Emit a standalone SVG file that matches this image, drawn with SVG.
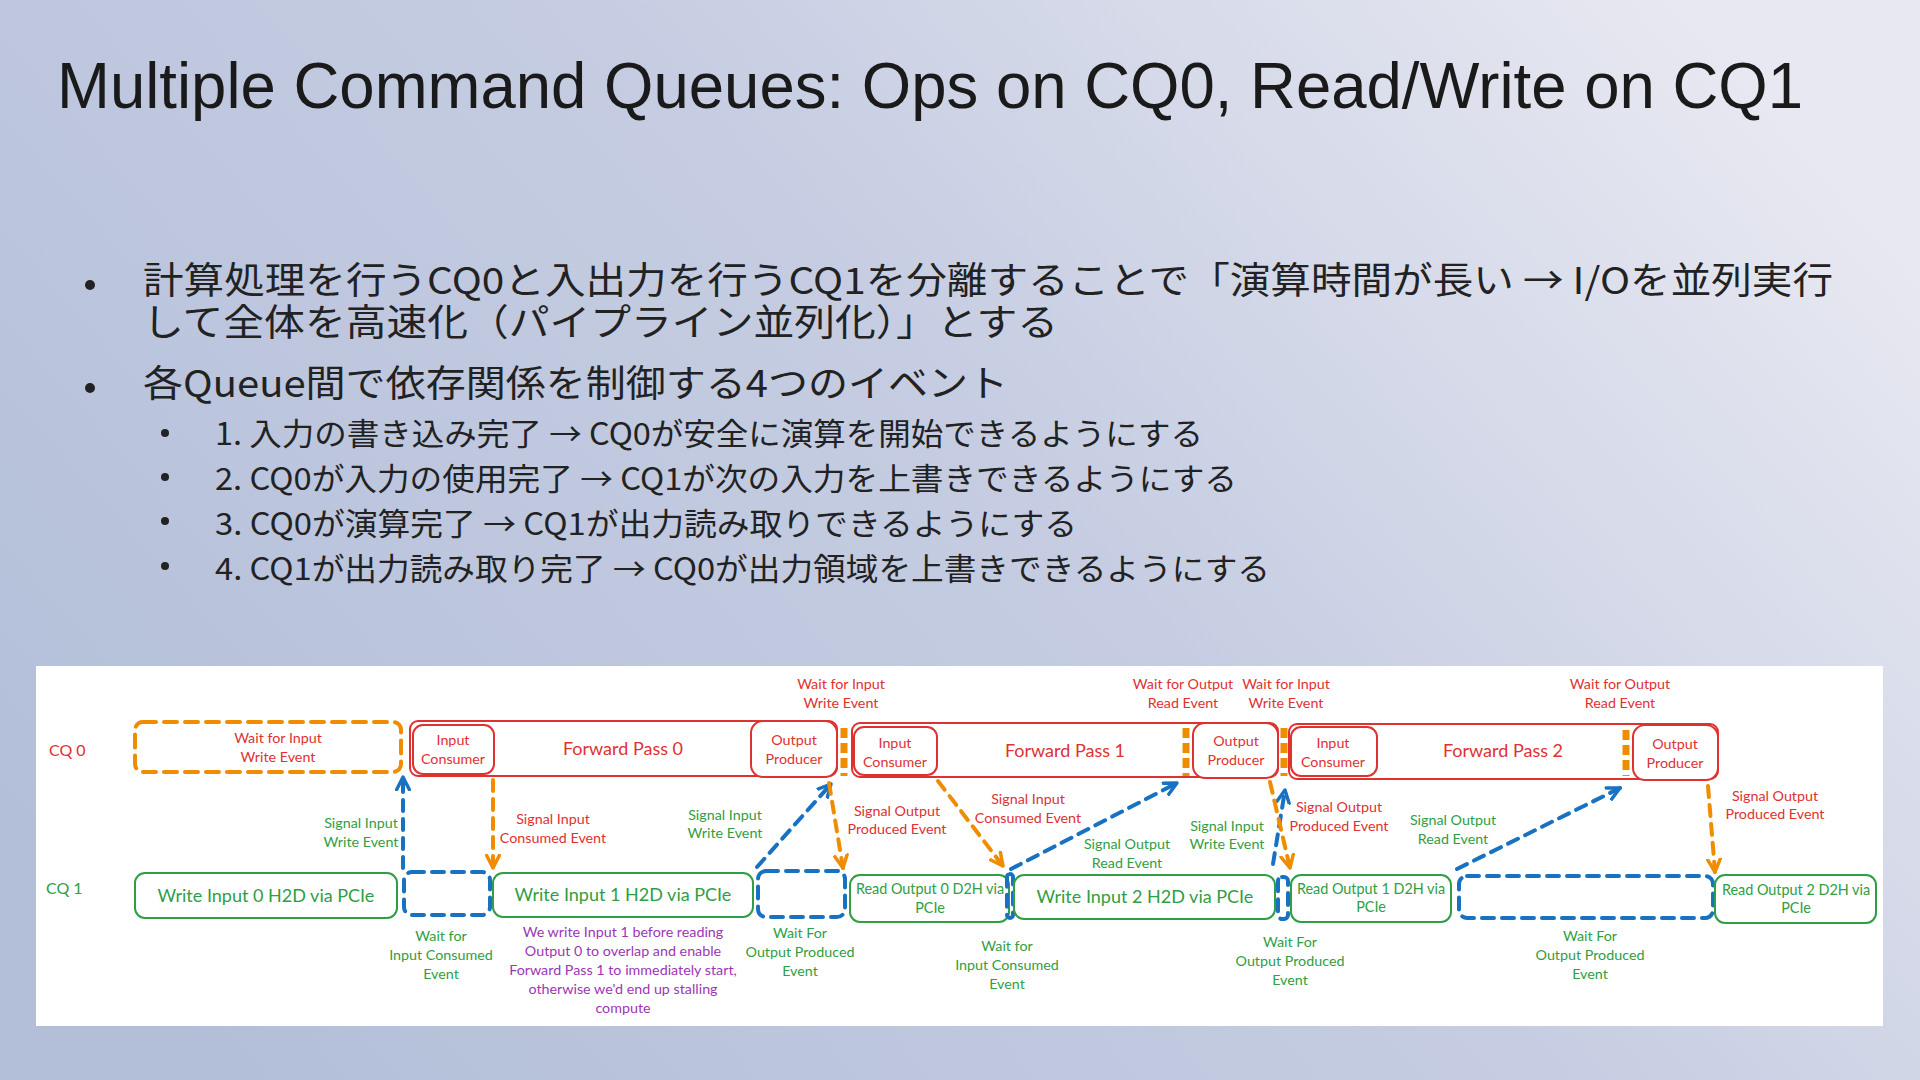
<svg xmlns="http://www.w3.org/2000/svg" width="1920" height="1080" viewBox="0 0 1920 1080">
<defs>
<linearGradient id="bg" x1="0" y1="0.75" x2="1" y2="0.25">
<stop offset="0" stop-color="#b3bfd9"/>
<stop offset="0.55" stop-color="#c6cde2"/>
<stop offset="1" stop-color="#e7e8f1"/>
</linearGradient>
<marker id="ab" viewBox="0 0 14 14" refX="12" refY="7" markerWidth="16" markerHeight="16" markerUnits="userSpaceOnUse" orient="auto">
<path d="M1,1.5 L12,7 L1,12.5" fill="none" stroke="#1971c2" stroke-width="3" stroke-linecap="round" stroke-linejoin="round"/>
</marker>
<marker id="ao" viewBox="0 0 14 14" refX="12" refY="7" markerWidth="16" markerHeight="16" markerUnits="userSpaceOnUse" orient="auto">
<path d="M1,1.5 L12,7 L1,12.5" fill="none" stroke="#f08c00" stroke-width="3" stroke-linecap="round" stroke-linejoin="round"/>
</marker>
</defs>
<style>
.title{font-family:"Liberation Sans",Arial,sans-serif;font-size:64px;fill:#1a1a1a}
.jp{font-family:"Noto Sans CJK JP","Noto Sans",sans-serif;fill:#222}
.b1{font-size:37px}
.b2{font-size:31px}
.d{font-family:Lato,"Open Sans",sans-serif}
.red{fill:#e03131}
.grn{fill:#2f9e44}
.pur{fill:#9c36b5}
.lbl{font-size:14.3px;text-anchor:middle}
.box{font-size:18px;text-anchor:middle}
.box2{font-size:14.4px;text-anchor:middle}
.fp{font-size:18px;text-anchor:middle}
.cq{font-size:16px}
.rbox{fill:#fff;stroke:#e03131;stroke-width:2}
.gbox{fill:#fff;stroke:#2f9e44;stroke-width:2}
.bdash{fill:none;stroke:#1971c2;stroke-width:4;stroke-dasharray:12 8;stroke-linecap:round}
.odash{fill:none;stroke:#f08c00;stroke-width:4;stroke-dasharray:13 8;stroke-linecap:round}
.obar{fill:none;stroke:#f08c00;stroke-width:7;stroke-dasharray:10 5}
.cb{fill:none;stroke:#1971c2;stroke-width:4;stroke-dasharray:11 8;stroke-linecap:round;marker-end:url(#ab)}
.co{fill:none;stroke:#f08c00;stroke-width:4;stroke-dasharray:11 8;stroke-linecap:round;marker-end:url(#ao)}
</style>
<rect x="0" y="0" width="1920" height="1080" fill="url(#bg)"/>
<text class="title" x="57" y="108" textLength="1746" lengthAdjust="spacingAndGlyphs">Multiple Command Queues: Ops on CQ0, Read/Write on CQ1</text>
<g id="bullets">
<circle cx="90" cy="285" r="5" fill="#222"/>
<text class="jp b1" x="143" y="294" textLength="1690" lengthAdjust="spacingAndGlyphs">計算処理を行うCQ0と入出力を行うCQ1を分離することで「演算時間が長い → I/Oを並列実行</text>
<text class="jp b1" x="143" y="336" textLength="915" lengthAdjust="spacingAndGlyphs">して全体を高速化（パイプライン並列化）」とする</text>
<circle cx="90" cy="388" r="5" fill="#222"/>
<text class="jp b1" x="143" y="397" textLength="865" lengthAdjust="spacingAndGlyphs">各Queue間で依存関係を制御する4つのイベント</text>
<circle cx="165" cy="433" r="4" fill="#222"/>
<text class="jp b2" x="215" y="445" textLength="988" lengthAdjust="spacingAndGlyphs">1. 入力の書き込み完了 → CQ0が安全に演算を開始できるようにする</text>
<circle cx="165" cy="477" r="4" fill="#222"/>
<text class="jp b2" x="215" y="490" textLength="1022" lengthAdjust="spacingAndGlyphs">2. CQ0が入力の使用完了 → CQ1が次の入力を上書きできるようにする</text>
<circle cx="165" cy="521" r="4" fill="#222"/>
<text class="jp b2" x="215" y="535" textLength="862" lengthAdjust="spacingAndGlyphs">3. CQ0が演算完了 → CQ1が出力読み取りできるようにする</text>
<circle cx="165" cy="566" r="4" fill="#222"/>
<text class="jp b2" x="215" y="580" textLength="1055" lengthAdjust="spacingAndGlyphs">4. CQ1が出力読み取り完了 → CQ0が出力領域を上書きできるようにする</text>
</g>
<rect x="36" y="666" width="1847" height="360" fill="#fff"/>
<g id="row-labels" class="d">
<text class="cq red" x="49" y="756">CQ 0</text>
<text class="cq grn" x="46" y="894">CQ 1</text>
</g>
<g id="wait-input-0">
<rect class="odash" x="135" y="722" width="266" height="50" rx="8"/>
<text class="d lbl red" x="278" y="743">Wait for Input</text>
<text class="d lbl red" x="278" y="762">Write Event</text>
</g>
<g id="fp0">
<rect class="rbox" x="410" y="721" width="427" height="55" rx="8"/>
<rect class="rbox" x="413" y="725" width="81" height="49" rx="10"/>
<text class="d lbl red" x="453" y="745">Input</text>
<text class="d lbl red" x="453" y="764">Consumer</text>
<text class="d fp red" x="623" y="755">Forward Pass 0</text>
<rect class="rbox" x="751" y="721" width="86" height="56" rx="12"/>
<text class="d lbl red" x="794" y="745">Output</text>
<text class="d lbl red" x="794" y="764">Producer</text>
</g>
<g id="fp1">
<rect class="rbox" x="852" y="723" width="426" height="54" rx="8"/>
<rect class="rbox" x="854" y="727" width="83" height="48" rx="10"/>
<text class="d lbl red" x="895" y="748">Input</text>
<text class="d lbl red" x="895" y="767">Consumer</text>
<text class="d fp red" x="1065" y="757">Forward Pass 1</text>
<rect class="rbox" x="1193" y="723" width="85" height="55" rx="12"/>
<text class="d lbl red" x="1236" y="746">Output</text>
<text class="d lbl red" x="1236" y="765">Producer</text>
</g>
<g id="fp2">
<rect class="rbox" x="1289" y="724" width="429" height="55" rx="8"/>
<rect class="rbox" x="1291" y="727" width="86" height="49" rx="10"/>
<text class="d lbl red" x="1333" y="748">Input</text>
<text class="d lbl red" x="1333" y="767">Consumer</text>
<text class="d fp red" x="1503" y="757">Forward Pass 2</text>
<rect class="rbox" x="1633" y="725" width="85" height="55" rx="12"/>
<text class="d lbl red" x="1675" y="749">Output</text>
<text class="d lbl red" x="1675" y="768">Producer</text>
</g>
<g id="cq0-waits">
<line class="obar" x1="844" y1="728" x2="844" y2="776"/>
<line class="obar" x1="1186" y1="728" x2="1186" y2="776"/>
<line class="obar" x1="1284" y1="728" x2="1284" y2="776"/>
<line class="obar" x1="1626" y1="730" x2="1626" y2="776"/>
<text class="d lbl red" x="841" y="689">Wait for Input</text>
<text class="d lbl red" x="841" y="708">Write Event</text>
<text class="d lbl red" x="1183" y="689">Wait for Output</text>
<text class="d lbl red" x="1183" y="708">Read Event</text>
<text class="d lbl red" x="1286" y="689">Wait for Input</text>
<text class="d lbl red" x="1286" y="708">Write Event</text>
<text class="d lbl red" x="1620" y="689">Wait for Output</text>
<text class="d lbl red" x="1620" y="708">Read Event</text>
</g>
<g id="write-input-0">
<rect class="gbox" x="135" y="873" width="262" height="45" rx="10"/>
<text class="d box grn" x="266" y="902">Write Input 0 H2D via PCIe</text>
</g>
<g id="wait-consumed-0">
<rect class="bdash" x="404" y="872" width="86" height="43" rx="8"/>
<text class="d lbl grn" x="441" y="941">Wait for</text>
<text class="d lbl grn" x="441" y="960">Input Consumed</text>
<text class="d lbl grn" x="441" y="979">Event</text>
</g>
<g id="write-input-1">
<rect class="gbox" x="493" y="873" width="260" height="44" rx="10"/>
<text class="d box grn" x="623" y="901">Write Input 1 H2D via PCIe</text>
<text class="d lbl pur" x="623" y="937">We write Input 1 before reading</text>
<text class="d lbl pur" x="623" y="956">Output 0 to overlap and enable</text>
<text class="d lbl pur" x="623" y="975">Forward Pass 1 to immediately start,</text>
<text class="d lbl pur" x="623" y="994">otherwise we'd end up stalling</text>
<text class="d lbl pur" x="623" y="1013">compute</text>
</g>
<g id="wait-produced-0">
<rect class="bdash" x="758" y="871" width="87" height="46" rx="8"/>
<text class="d lbl grn" x="800" y="938">Wait For</text>
<text class="d lbl grn" x="800" y="957">Output Produced</text>
<text class="d lbl grn" x="800" y="976">Event</text>
</g>
<g id="read-output-0">
<rect class="gbox" x="850" y="875" width="159" height="47" rx="10"/>
<text class="d box2 grn" x="930" y="894">Read Output 0 D2H via</text>
<text class="d box2 grn" x="930" y="913">PCIe</text>
</g>
<g id="wait-consumed-1">
<rect class="bdash" x="1007" y="874" width="6" height="44" rx="3"/>
<text class="d lbl grn" x="1007" y="951">Wait for</text>
<text class="d lbl grn" x="1007" y="970">Input Consumed</text>
<text class="d lbl grn" x="1007" y="989">Event</text>
</g>
<g id="write-input-2">
<rect class="gbox" x="1014" y="875" width="261" height="44" rx="10"/>
<text class="d box grn" x="1145" y="903">Write Input 2 H2D via PCIe</text>
</g>
<g id="wait-produced-1">
<rect class="bdash" x="1278" y="877" width="10" height="42" rx="4"/>
<text class="d lbl grn" x="1290" y="947">Wait For</text>
<text class="d lbl grn" x="1290" y="966">Output Produced</text>
<text class="d lbl grn" x="1290" y="985">Event</text>
</g>
<g id="read-output-1">
<rect class="gbox" x="1291" y="875" width="160" height="47" rx="10"/>
<text class="d box2 grn" x="1371" y="894">Read Output 1 D2H via</text>
<text class="d box2 grn" x="1371" y="912">PCIe</text>
</g>
<g id="wait-produced-2">
<rect class="bdash" x="1459" y="876" width="254" height="42" rx="8"/>
<text class="d lbl grn" x="1590" y="941">Wait For</text>
<text class="d lbl grn" x="1590" y="960">Output Produced</text>
<text class="d lbl grn" x="1590" y="979">Event</text>
</g>
<g id="read-output-2">
<rect class="gbox" x="1715" y="875" width="161" height="48" rx="10"/>
<text class="d box2 grn" x="1796" y="895">Read Output 2 D2H via</text>
<text class="d box2 grn" x="1796" y="913">PCIe</text>
</g>
<g id="connectors">
<line class="cb" x1="403" y1="868" x2="403" y2="777"/>
<line class="co" x1="493" y1="780" x2="493" y2="868"/>
<line class="cb" x1="757" y1="867" x2="831" y2="784"/>
<line class="co" x1="829" y1="783" x2="843" y2="868"/>
<line class="co" x1="938" y1="781" x2="1003" y2="866"/>
<line class="cb" x1="1011" y1="869" x2="1177" y2="783"/>
<line class="cb" x1="1273" y1="864" x2="1285" y2="790"/>
<line class="co" x1="1270" y1="782" x2="1290" y2="868"/>
<line class="cb" x1="1457" y1="869" x2="1620" y2="788"/>
<line class="co" x1="1708" y1="786" x2="1715" y2="872"/>
<g class="d lbl">
<text class="grn" x="361" y="828">Signal Input</text>
<text class="grn" x="361" y="847">Write Event</text>
<text class="red" x="553" y="824">Signal Input</text>
<text class="red" x="553" y="843">Consumed Event</text>
<text class="grn" x="725" y="820">Signal Input</text>
<text class="grn" x="725" y="838">Write Event</text>
<text class="red" x="897" y="816">Signal Output</text>
<text class="red" x="897" y="834">Produced Event</text>
<text class="red" x="1028" y="804">Signal Input</text>
<text class="red" x="1028" y="823">Consumed Event</text>
<text class="grn" x="1127" y="849">Signal Output</text>
<text class="grn" x="1127" y="868">Read Event</text>
<text class="grn" x="1227" y="831">Signal Input</text>
<text class="grn" x="1227" y="849">Write Event</text>
<text class="red" x="1339" y="812">Signal Output</text>
<text class="red" x="1339" y="831">Produced Event</text>
<text class="grn" x="1453" y="825">Signal Output</text>
<text class="grn" x="1453" y="844">Read Event</text>
<text class="red" x="1775" y="801">Signal Output</text>
<text class="red" x="1775" y="819">Produced Event</text>
</g>
</g>
</svg>
